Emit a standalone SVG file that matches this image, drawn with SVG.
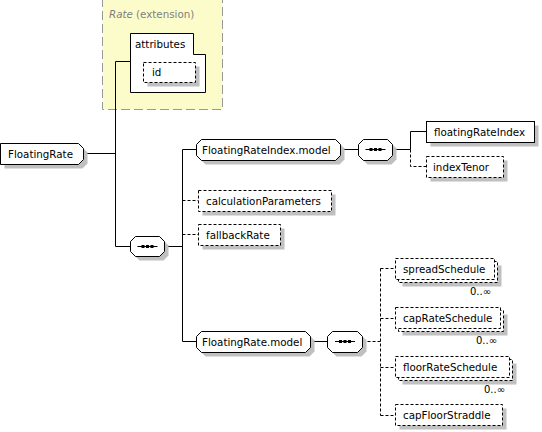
<svg xmlns="http://www.w3.org/2000/svg" width="542" height="432" viewBox="0 0 542 432">
<style>
text{font-family:"DejaVu Sans","Liberation Sans",sans-serif;font-size:10.3px;fill:#000}
.ext{fill:#fcfcca;stroke:#999;stroke-width:1;stroke-dasharray:9,4}
.box{fill:#fff;stroke:#000;stroke-width:1}
.opt{fill:#fff;stroke:#000;stroke-width:1;stroke-dasharray:3,2}
.sh{fill:#c0c0c0}
.ln{fill:none;stroke:#000;stroke-width:1}
.dl{fill:none;stroke:#000;stroke-width:1;stroke-dasharray:3,2}
.gr{fill:#808080}
.occ{font-size:10px}
</style>
<defs>
<g id="seqicon">
<path d="M-10,0H10" stroke="#000" stroke-width="1"/>
<rect x="-6" y="-1.5" width="3" height="3" fill="#000"/>
<rect x="-1.5" y="-1.5" width="3" height="3" fill="#000"/>
<rect x="3" y="-1.5" width="3" height="3" fill="#000"/>
</g>
</defs>

<g id="extension">
<rect class="ext" x="102.5" y="-3" width="120" height="112.5"/>
<text x="109" y="18" class="gr" font-style="italic">Rate</text>
<text x="136" y="18" class="gr"> (extension)</text>
</g>

<g id="attributes">
<path class="box" d="M130.5,33.5H193.5V54.5H205.5V92.5H130.5Z"/>
<text x="135" y="48">attributes</text>
</g>

<g id="id">
<rect class="sh" x="147.5" y="66.5" width="52" height="20"/>
<rect class="opt" x="143.5" y="62.5" width="52" height="20"/>
<text x="152" y="76">id</text>
</g>

<g id="connectors">
<path class="ln" d="M83.5,153.5H115.5M115.5,61.5V246.5M115.5,61.5H130.5M115.5,246.5H130.5"/>
<path class="ln" d="M164.5,246.5H182.5M182.5,149.5V341.5M182.5,149.5H196.5M182.5,341.5H196.5"/>
<path class="dl" d="M182.5,200.5H198.5M182.5,234.5H198.5"/>
<path class="ln" d="M340.5,149.5H358.5M392.5,149.5H410.5M410.5,131.5V149.5M410.5,131.5H426.5"/>
<path class="dl" d="M410.5,149.5V166.5H426.5"/>
<path class="ln" d="M310.5,341.5H327.5"/>
<path class="dl" d="M362.5,341.5H380.5M380.5,268.5V415.5M380.5,268.5H395.5M380.5,318.5H395.5M380.5,367.5H395.5M380.5,415.5H395.5"/>
</g>

<g id="FloatingRate">
<path class="sh" d="M4.5,147.5H82.5L87.5,152.5V163.5L82.5,168.5H4.5Z"/>
<path class="box" d="M0.5,143.5H78.5L83.5,148.5V159.5L78.5,164.5H0.5Z"/>
<text x="8" y="158">FloatingRate</text>
</g>

<g id="sequence1">
<path class="sh" d="M139.5,240.5H163.5L168.5,245.5V255.5L163.5,260.5H139.5L134.5,255.5V245.5Z"/>
<path class="box" d="M135.5,236.5H159.5L164.5,241.5V251.5L159.5,256.5H135.5L130.5,251.5V241.5Z"/>
<use href="#seqicon" x="147.5" y="246.5"/>
</g>

<g id="FloatingRateIndex.model">
<path class="sh" d="M205.5,143.5H339.5L344.5,148.5V159.5L339.5,164.5H205.5L200.5,159.5V148.5Z"/>
<path class="box" d="M201.5,139.5H335.5L340.5,144.5V155.5L335.5,160.5H201.5L196.5,155.5V144.5Z"/>
<text x="202" y="154">FloatingRateIndex.model</text>
</g>

<g id="sequence2">
<path class="sh" d="M367.5,143.5H391.5L396.5,148.5V159.5L391.5,164.5H367.5L362.5,159.5V148.5Z"/>
<path class="box" d="M363.5,139.5H387.5L392.5,144.5V155.5L387.5,160.5H363.5L358.5,155.5V144.5Z"/>
<use href="#seqicon" x="375.5" y="149.5"/>
</g>

<g id="floatingRateIndex">
<rect class="sh" x="430.5" y="125.5" width="108" height="21"/>
<rect class="box" x="426.5" y="121.5" width="108" height="21"/>
<text x="434" y="136">floatingRateIndex</text>
</g>

<g id="indexTenor">
<rect class="sh" x="430.5" y="160.5" width="77" height="21"/>
<rect class="opt" x="426.5" y="156.5" width="77" height="21"/>
<text x="433" y="171">indexTenor</text>
</g>

<g id="calculationParameters">
<rect class="sh" x="202.5" y="194.5" width="133" height="21"/>
<rect class="opt" x="198.5" y="190.5" width="133" height="21"/>
<text x="206" y="205">calculationParameters</text>
</g>

<g id="fallbackRate">
<rect class="sh" x="202.5" y="228.5" width="82" height="21"/>
<rect class="opt" x="198.5" y="224.5" width="82" height="21"/>
<text x="206" y="239">fallbackRate</text>
</g>

<g id="FloatingRate.model">
<path class="sh" d="M205.5,335.5H309.5L314.5,340.5V351.5L309.5,356.5H205.5L200.5,351.5V340.5Z"/>
<path class="box" d="M201.5,331.5H305.5L310.5,336.5V347.5L305.5,352.5H201.5L196.5,347.5V336.5Z"/>
<text x="202" y="346">FloatingRate.model</text>
</g>

<g id="sequence3">
<path class="sh" d="M336.5,335.5H361.5L366.5,340.5V351.5L361.5,356.5H336.5L331.5,351.5V340.5Z"/>
<path class="box" d="M332.5,331.5H357.5L362.5,336.5V347.5L357.5,352.5H332.5L327.5,347.5V336.5Z"/>
<use href="#seqicon" x="345" y="341.5"/>
</g>

<g id="spreadSchedule">
<rect class="sh" x="402.5" y="265.5" width="99" height="21"/>
<rect class="opt" x="398.5" y="261.5" width="99" height="21"/>
<rect class="opt" x="395.5" y="258.5" width="99" height="21"/>
<text x="403" y="273">spreadSchedule</text>
<text x="491" y="295" class="occ" text-anchor="end">0..∞</text>
</g>

<g id="capRateSchedule">
<rect class="sh" x="402.5" y="314.5" width="105" height="21"/>
<rect class="opt" x="398.5" y="310.5" width="105" height="21"/>
<rect class="opt" x="395.5" y="307.5" width="105" height="21"/>
<text x="403" y="322">capRateSchedule</text>
<text x="497" y="344" class="occ" text-anchor="end">0..∞</text>
</g>

<g id="floorRateSchedule">
<rect class="sh" x="402.5" y="363.5" width="114" height="21"/>
<rect class="opt" x="398.5" y="359.5" width="114" height="21"/>
<rect class="opt" x="395.5" y="356.5" width="114" height="21"/>
<text x="403" y="371">floorRateSchedule</text>
<text x="505" y="393" class="occ" text-anchor="end">0..∞</text>
</g>

<g id="capFloorStraddle">
<rect class="sh" x="399.5" y="408.5" width="107" height="21"/>
<rect class="opt" x="395.5" y="404.5" width="107" height="21"/>
<text x="403" y="419">capFloorStraddle</text>
</g>
</svg>
